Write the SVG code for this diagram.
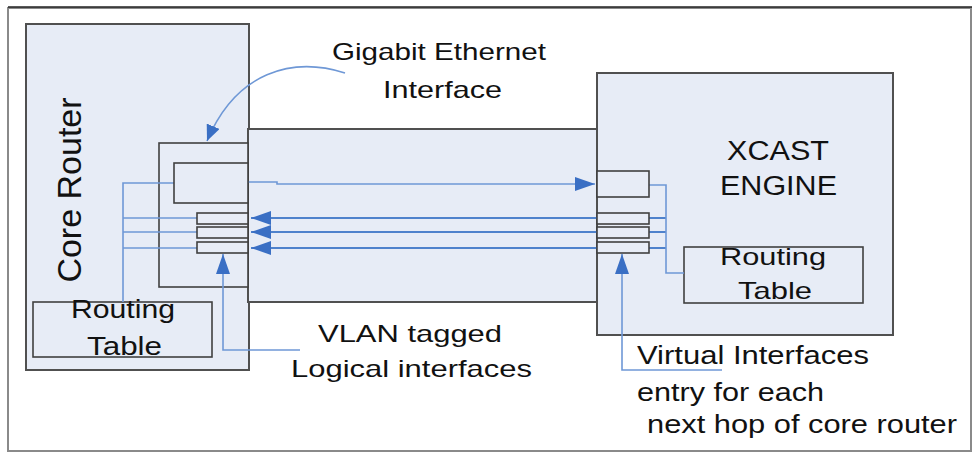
<svg xmlns="http://www.w3.org/2000/svg" width="974" height="454" viewBox="0 0 974 454">
<style>
.box{fill:#e7ecf6;stroke:#505050;stroke-width:2}
.sub{fill:#e7ecf6;stroke:#404040;stroke-width:1.6}
.ln{fill:none;stroke:#6f98d6;stroke-width:1.6}
.lnb{fill:none;stroke:#4f82cc;stroke-width:1.8}
text{font-family:"Liberation Sans",Arial,sans-serif;fill:#111}
</style>
<defs>
<marker id="ah" markerUnits="userSpaceOnUse" markerWidth="20" markerHeight="14" refX="20" refY="7" orient="auto" viewBox="0 0 20 14">
<path d="M0,0 L20,7 L0,14 z" fill="#3a6fc4"/>
</marker>
<marker id="ahs" markerUnits="userSpaceOnUse" markerWidth="16" markerHeight="14" refX="16" refY="7" orient="auto" viewBox="0 0 16 14">
<path d="M0,0 L16,7 L0,14 z" fill="#3a6fc4"/>
</marker>
</defs>
<rect x="0" y="0" width="974" height="454" fill="#ffffff"/>
<rect x="8" y="8" width="963" height="443" fill="#ffffff" stroke="#8a8a8a" stroke-width="2"/>
<line x1="8" y1="7" x2="972" y2="7" stroke="#222" stroke-width="1.5"/>

<g id="core-router">
<rect class="box" x="26" y="24" width="223" height="346"/>
<text transform="translate(81,190) rotate(-90)" font-size="34" text-anchor="middle">Core Router</text>
</g>
<g id="link">
<rect class="box" x="248" y="129" width="349" height="173"/>
</g>
<g id="xcast-engine">
<rect class="box" x="597" y="73" width="296" height="262"/>
<text x="727" y="160" font-size="27" textLength="102" lengthAdjust="spacingAndGlyphs">XCAST</text>
<text x="720" y="195" font-size="27" textLength="117" lengthAdjust="spacingAndGlyphs">ENGINE</text>
</g>
<g id="core-gige-interface">
<rect class="sub" x="159" y="143" width="89" height="144"/>
</g>
<g id="routing-table-left">
<rect class="sub" x="33" y="302" width="179" height="55"/>
<text x="71" y="318" font-size="25" textLength="104" lengthAdjust="spacingAndGlyphs">Routing</text>
<text x="87" y="355" font-size="25" textLength="75" lengthAdjust="spacingAndGlyphs">Table</text>
</g>
<g id="routing-table-right">
<rect class="sub" x="684" y="247" width="179" height="56"/>
<text x="720" y="265" font-size="24" textLength="106" lengthAdjust="spacingAndGlyphs">Routing</text>
<text x="738" y="299" font-size="24" textLength="74" lengthAdjust="spacingAndGlyphs">Table</text>
</g>

<g id="connectors">
<path class="ln" d="M248 182 H277 V184 H595" marker-end="url(#ah)"/>
<path class="lnb" d="M666 218 H251" marker-end="url(#ah)"/>
<path class="lnb" d="M666 232 H251" marker-end="url(#ah)"/>
<path class="lnb" d="M666 248 H251" marker-end="url(#ah)"/>
<path class="ln" d="M174 183 H123 V302"/>
<path class="ln" d="M123 218 H197 M123 232 H197 M123 248 H197"/>
<path class="ln" d="M649 185 H666 V273 H684"/>
<path class="ln" d="M300 350 H223 V254" marker-end="url(#ah)"/>
<path class="ln" d="M722 370 H622 V254" marker-end="url(#ah)"/>
<path class="ln" d="M345 73 C 292 56, 236 72, 207 141" marker-end="url(#ahs)"/>
</g>

<g id="core-gige-port">
<rect class="sub" x="174" y="163" width="74" height="40"/>
</g>
<g id="core-vlan-1"><rect class="sub" x="197" y="213" width="51" height="11"/></g>
<g id="core-vlan-2"><rect class="sub" x="197" y="227" width="51" height="11"/></g>
<g id="core-vlan-3"><rect class="sub" x="197" y="242" width="51" height="11"/></g>
<g id="xcast-gige-port">
<rect class="sub" x="597" y="171" width="52" height="26"/>
</g>
<g id="xcast-vif-1"><rect class="sub" x="597" y="213" width="52" height="11"/></g>
<g id="xcast-vif-2"><rect class="sub" x="597" y="227" width="52" height="11"/></g>
<g id="xcast-vif-3"><rect class="sub" x="597" y="242" width="52" height="11"/></g>

<g id="label-gige">
<text x="332" y="60" font-size="24" textLength="214" lengthAdjust="spacingAndGlyphs">Gigabit Ethernet</text>
<text x="383" y="98" font-size="24" textLength="119" lengthAdjust="spacingAndGlyphs">Interface</text>
</g>
<g id="label-vlan">
<text x="318" y="342" font-size="24" textLength="184" lengthAdjust="spacingAndGlyphs">VLAN tagged</text>
<text x="291" y="377" font-size="24" textLength="241" lengthAdjust="spacingAndGlyphs">Logical interfaces</text>
</g>
<g id="label-virtual">
<text x="637" y="364" font-size="25" textLength="232" lengthAdjust="spacingAndGlyphs">Virtual Interfaces</text>
<text x="637" y="401" font-size="25" textLength="187" lengthAdjust="spacingAndGlyphs">entry for each</text>
<text x="647" y="433" font-size="25" textLength="310" lengthAdjust="spacingAndGlyphs">next hop of core router</text>
</g>
</svg>
